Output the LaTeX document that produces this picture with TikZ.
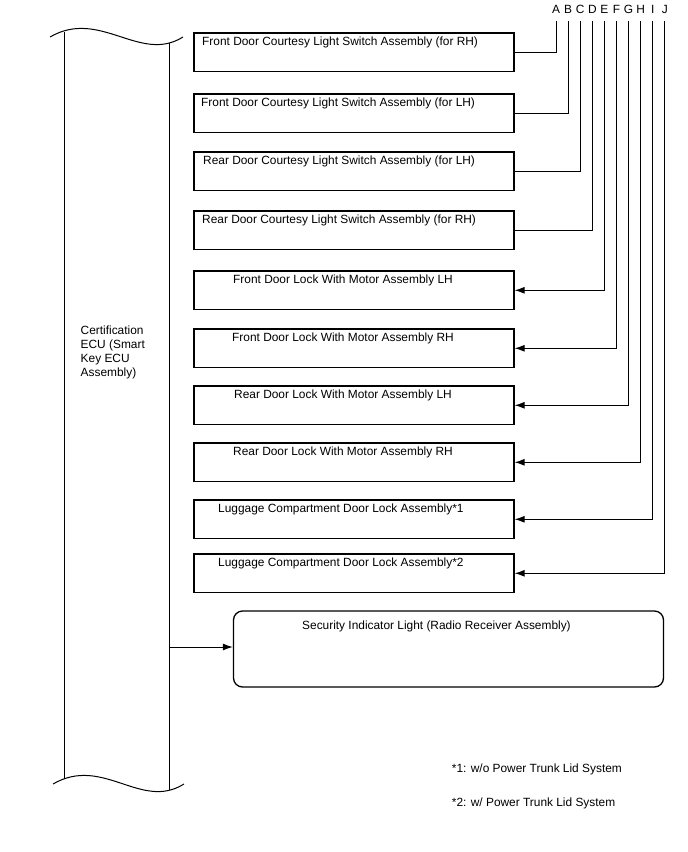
\documentclass[tikz,border=0pt]{standalone}
\usepackage{fontspec}
\setmainfont{Liberation Sans}
\usetikzlibrary{arrows.meta}

\tikzset{
  boite/.style={draw, line width=1.3pt, minimum width=320, minimum height=38.6, inner sep=0pt},
  fil/.style={line width=1pt},
  txt/.style={inner sep=0pt, font=\fontsize{11.9}{14}\selectfont},
  lettre/.style={inner sep=0pt, outer ysep=8pt, font=\fontsize{11.9}{14}\selectfont},
}

\begin{document}
\begin{tikzpicture}[x=1pt, y=-1pt, >={Latex[length=10pt,width=7pt]}]

  \useasboundingbox (0,0) rectangle (688,852);

  % Bloc ECU (traits ondules en haut et en bas)
  \def\ecuG{64}      % bord gauche
  \def\ecuD{169}     % bord droit
  \draw[fil] (50,37) .. controls (100,8) and (140,64) .. (183,37);
  \draw[fil] (53,784) .. controls (103,755) and (141,811) .. (184,784);
  \draw[fil] (\ecuG,32) -- (\ecuG,779);
  \draw[fil] (\ecuD,43) -- (\ecuD,790);
  \node[txt, anchor=north west, align=left] (ecu) at (80.5,325.5)
    {Certification\\ECU (Smart\\Key ECU\\Assembly)};

  % ==============================================
  % Interrupteurs et serrures A..J
  % ==============================================
  \foreach \haut/\lettre/\tx/\texte [count=\i] in {
      33/A/202/{Front Door Courtesy Light Switch Assembly (for RH)},
      94/B/201/{Front Door Courtesy Light Switch Assembly (for LH)},
      152/C/203/{Rear Door Courtesy Light Switch Assembly (for LH)},
      211/D/202/{Rear Door Courtesy Light Switch Assembly (for RH)},
      271/E/233/{Front Door Lock With Motor Assembly LH},
      329/F/232/{Front Door Lock With Motor Assembly RH},
      386/G/234/{Rear Door Lock With Motor Assembly LH},
      443/H/233/{Rear Door Lock With Motor Assembly RH},
      500/I/218/{Luggage Compartment Door Lock Assembly*1},
      554/J/218/{Luggage Compartment Door Lock Assembly*2}} {
    \node[boite] (b\i) at (354, \haut+19.3) {};
    \node[txt, anchor=base west] (t\i) at (\tx, \haut+12.5) {\texte};
    \pgfmathsetmacro{\xl}{556+12.1*(\i-1)}
    \node[lettre, anchor=base] (\lettre) at (\xl, 13) {\lettre};
    % les 4 premiers sans fleche
    \ifnum\i<5
      \draw[fil] (\lettre.south) |- (b\i.east);
    \else
      \draw[fil, ->] (\lettre.south) |- (b\i.east);
    \fi
  }

  % ==============================================
  % Voyant de securite
  % ==============================================
  \node[boite, rounded corners=9pt, minimum width=430, minimum height=76] (secu) at (448.5,649) {};
  \node[txt, anchor=base west] (tsecu) at (302,629) {Security Indicator Light (Radio Receiver Assembly)};
  \coordinate (ecuSortie) at (\ecuD,647);
  \draw[fil, ->] (ecuSortie) -- (ecuSortie -| secu.west);

  % Notes
  \node[txt, anchor=base west] (note1) at (451.7,772.7) {*1: w/o Power Trunk Lid System};
  \node[txt, anchor=base west] (note2) at (451.7,806.7) {*2: w/ Power Trunk Lid System};

\end{tikzpicture}
\end{document}
